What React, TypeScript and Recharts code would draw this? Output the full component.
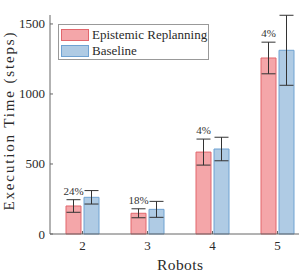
import React from 'react';
import { BarChart, Bar, XAxis, YAxis, ErrorBar, LabelList } from 'recharts';

const robots = ['2', '3', '4', '5'];
const replanning = [200, 148, 585, 1257];
const replanningErr = [45, 32, 93, 113];
const baseline = [262, 176, 607, 1312];
const baselineErr = [48, 57, 84, 250];
const improvement = ['24%', '18%', '4%', '4%'];
const yTicks = [0, 500, 1000, 1500];

const RED_FILL = '#F4A6A9';
const RED_LINE = '#E2676D';
const BLUE_FILL = '#AFCBE4';
const BLUE_LINE = '#6FA2D2';
const SERIF = '"Liberation Serif", "DejaVu Serif", serif';
const TEXT = '#2a2a2a';

const data = robots.map((r, i) => ({
  robots: r,
  er: replanning[i],
  erErr: replanningErr[i],
  base: baseline[i],
  baseErr: baselineErr[i],
  pct: improvement[i],
}));

// percentage label sits just above the red bar's error whisker
const PctLabel = (props: any) => {
  const { x, y, width, height, index } = props;
  const d = data[index];
  const pxPerUnit = height / d.er;
  const top = y - d.erErr * pxPerUnit;
  return (
    <text x={x + width / 2} y={top - 5} textAnchor="middle" fontSize={11} fontFamily={SERIF} fill="#333">
      {d.pct}
    </text>
  );
};

const XTick = (p: any) => (
  <text x={p.x} y={p.y + 9} textAnchor="middle" fontSize={13} fontFamily={SERIF} fill={TEXT}>
    {p.payload.value}
  </text>
);

const YTick = (p: any) => (
  <text x={p.x} y={p.y + 4.5} textAnchor="end" fontSize={13} fontFamily={SERIF} fill={TEXT}>
    {p.payload.value}
  </text>
);

const legendItems = [
  { label: 'Epistemic Replanning', fill: RED_FILL, line: RED_LINE },
  { label: 'Baseline', fill: BLUE_FILL, line: BLUE_LINE },
];

const LegendBox = () => (
  <div style={{ position: 'absolute', left: 58, top: 24, width: 151, height: 36, boxSizing: 'border-box', border: '1px solid #999', background: '#fff', padding: '2px 0 0 2px', fontFamily: SERIF, fontSize: 13, color: TEXT, whiteSpace: 'nowrap' }}>
    {legendItems.map(e => (
      <div key={e.label} style={{ display: 'flex', alignItems: 'center', height: 16 }}>
        <span style={{ display: 'inline-block', width: 28, height: 12, boxSizing: 'border-box', background: e.fill, border: `1px solid ${e.line}`, marginRight: 3, flex: 'none' }} />
        <span>{e.label}</span>
      </div>
    ))}
  </div>
);

export default function App() {
  return (
    <div style={{ position: 'absolute', left: 0, top: 0, width: 299, height: 275, overflow: 'hidden', background: '#fff' }}>
      <BarChart
        width={312}
        height={275}
        data={data}
        margin={{ top: 15, right: 2, bottom: 0, left: 0 }}
        barSize={15}
        barGap={3}
      >
        <XAxis
          dataKey="robots"
          height={41}
          stroke="#666"
          tickSize={-3}
          tickMargin={10}
          tick={XTick}
          label={(p: any) => (
            <text x={p.viewBox.x + p.viewBox.width / 2} y={270} textAnchor="middle" fontSize={15.5} fontFamily={SERIF} fill={TEXT} textLength={46} lengthAdjust="spacing">
              Robots
            </text>
          )}
        />
        <YAxis
          width={50}
          domain={[0, 1564]}
          ticks={yTicks}
          stroke="#666"
          tickSize={-3}
          tickMargin={8}
          tick={YTick}
          label={() => (
            <text x={13.5} y={121.5} transform="rotate(-90 13.5 121.5)" textAnchor="middle" fontSize={15} fontFamily={SERIF} fill={TEXT} textLength={178} lengthAdjust="spacing">
              Execution Time (steps)
            </text>
          )}
        />
        <Bar dataKey="er" name="Epistemic Replanning" fill={RED_FILL} stroke={RED_LINE} isAnimationActive={false}>
          <ErrorBar dataKey="erErr" width={7} stroke="#333" strokeWidth={1} />
          <LabelList dataKey="pct" content={PctLabel} />
        </Bar>
        <Bar dataKey="base" name="Baseline" fill={BLUE_FILL} stroke={BLUE_LINE} isAnimationActive={false}>
          <ErrorBar dataKey="baseErr" width={7} stroke="#333" strokeWidth={1} />
        </Bar>
      </BarChart>
      <LegendBox />
    </div>
  );
}
